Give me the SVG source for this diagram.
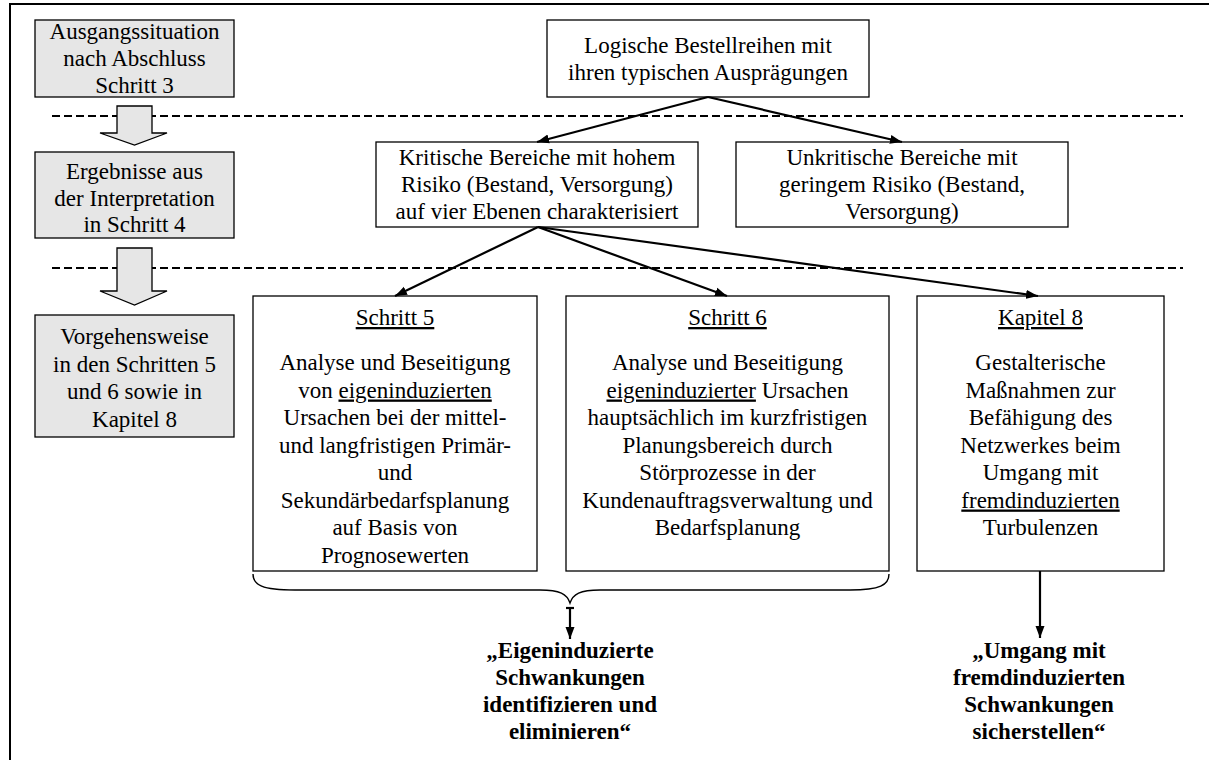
<svg xmlns="http://www.w3.org/2000/svg" width="1209" height="760" viewBox="0 0 1209 760" font-family="Liberation Serif, DejaVu Serif, serif">
  <defs>
    <marker id="head" markerUnits="userSpaceOnUse" markerWidth="13" markerHeight="10" refX="12" refY="5" orient="auto">
      <path d="M0,0.5 L12,5 L0,9.5 z" fill="#000"/>
    </marker>
    <style>
      text { font-family: 'Liberation Serif', 'DejaVu Serif', serif; font-size: 23px; fill: #000; text-anchor: middle; }
      .bold { font-weight: bold; }
      .u { text-decoration: underline; }
      .box { fill: #fff; stroke: #000; stroke-width: 1.3; }
      .gray { fill: #e6e6e6; stroke: #000; stroke-width: 1.3; }
      .dash { stroke: #000; stroke-width: 2; stroke-dasharray: 8 4; fill: none; }
      .conn { stroke: #000; stroke-width: 2.2; fill: none; }
      .brace { stroke: #000; stroke-width: 1.4; fill: none; }
    </style>
  </defs>

  <rect width="1209" height="760" fill="#fff"/>
  <!-- outer frame -->
  <rect x="10" y="4" width="1220" height="780" fill="none" stroke="#000" stroke-width="2"/>

  <!-- level separators -->
  <g id="separators">
    <line class="dash" x1="52" y1="116" x2="1183" y2="116"/>
    <line class="dash" x1="52" y1="268" x2="1183" y2="268"/>
  </g>

  <!-- left column: stage boxes and block arrows -->
  <g id="stage-1">
    <rect class="gray" x="35" y="20" width="199" height="77"/>
    <text x="134.5" y="39">Ausgangssituation</text>
    <text x="134.5" y="66">nach Abschluss</text>
    <text x="134.5" y="93">Schritt 3</text>
  </g>
  <g id="block-arrow-1">
    <polygon class="gray" points="117,106 152,106 152,133 167,133 134.5,145 100,133 117,133"/>
  </g>
  <g id="stage-2">
    <rect class="gray" x="35" y="152" width="199" height="86"/>
    <text x="134.5" y="179">Ergebnisse aus</text>
    <text x="134.5" y="206">der Interpretation</text>
    <text x="134.5" y="232">in Schritt 4</text>
  </g>
  <g id="block-arrow-2">
    <polygon class="gray" points="117,248 152,248 152,291 167,291 134.5,305 100,291 117,291"/>
  </g>
  <g id="stage-3">
    <rect class="gray" x="35" y="315" width="199" height="122"/>
    <text x="134.5" y="344">Vorgehensweise</text>
    <text x="134.5" y="372">in den Schritten 5</text>
    <text x="134.5" y="399">und 6 sowie in</text>
    <text x="134.5" y="427">Kapitel 8</text>
  </g>

  <!-- tree nodes -->
  <g id="bestellreihen">
    <rect class="box" x="547" y="20" width="322" height="77"/>
    <text x="708" y="53">Logische Bestellreihen mit</text>
    <text x="708" y="80">ihren typischen Ausprägungen</text>
  </g>
  <g id="kritisch">
    <rect class="box" x="376" y="142" width="322" height="85"/>
    <text x="537" y="165">Kritische Bereiche mit hohem</text>
    <text x="537" y="192">Risiko (Bestand, Versorgung)</text>
    <text x="537" y="219">auf vier Ebenen charakterisiert</text>
  </g>
  <g id="unkritisch">
    <rect class="box" x="736" y="142" width="332" height="85"/>
    <text x="902" y="165">Unkritische Bereiche mit</text>
    <text x="902" y="192">geringem Risiko (Bestand,</text>
    <text x="902" y="219">Versorgung)</text>
  </g>
  <g id="schritt-5">
    <rect class="box" x="253" y="296" width="284" height="275"/>
    <text x="395" y="325" class="u">Schritt 5</text>
    <text x="395" y="370">Analyse und Beseitigung</text>
    <text x="395" y="397.5">von <tspan class="u">eigeninduzierten</tspan></text>
    <text x="395" y="425">Ursachen bei der mittel-</text>
    <text x="395" y="452.5">und langfristigen Primär-</text>
    <text x="395" y="480">und</text>
    <text x="395" y="507.5">Sekundärbedarfsplanung</text>
    <text x="395" y="535">auf Basis von</text>
    <text x="395" y="562.5">Prognosewerten</text>
  </g>
  <g id="schritt-6">
    <rect class="box" x="566" y="296" width="323" height="275"/>
    <text x="727.5" y="325" class="u">Schritt 6</text>
    <text x="727.5" y="370">Analyse und Beseitigung</text>
    <text x="727.5" y="397.5"><tspan class="u">eigeninduzierter</tspan> Ursachen</text>
    <text x="727.5" y="425">hauptsächlich im kurzfristigen</text>
    <text x="727.5" y="452.5">Planungsbereich durch</text>
    <text x="727.5" y="480">Störprozesse in der</text>
    <text x="727.5" y="507.5">Kundenauftragsverwaltung und</text>
    <text x="727.5" y="535">Bedarfsplanung</text>
  </g>
  <g id="kapitel-8">
    <rect class="box" x="917" y="296" width="247" height="275"/>
    <text x="1040.5" y="325" class="u">Kapitel 8</text>
    <text x="1040.5" y="370">Gestalterische</text>
    <text x="1040.5" y="397.5">Maßnahmen zur</text>
    <text x="1040.5" y="425">Befähigung des</text>
    <text x="1040.5" y="452.5">Netzwerkes beim</text>
    <text x="1040.5" y="480">Umgang mit</text>
    <text x="1040.5" y="507.5" class="u">fremdinduzierten</text>
    <text x="1040.5" y="535">Turbulenzen</text>
  </g>

  <!-- results -->
  <g id="ergebnis-eigen">
    <text x="570" y="658" class="bold">„Eigeninduzierte</text>
    <text x="570" y="685" class="bold">Schwankungen</text>
    <text x="570" y="712" class="bold">identifizieren und</text>
    <text x="570" y="739" class="bold">eliminieren“</text>
  </g>
  <g id="ergebnis-fremd">
    <text x="1039" y="658" class="bold">„Umgang mit</text>
    <text x="1039" y="685" class="bold">fremdinduzierten</text>
    <text x="1039" y="712" class="bold">Schwankungen</text>
    <text x="1039" y="739" class="bold">sicherstellen“</text>
  </g>

  <!-- connectors -->
  <g id="connectors">
    <line class="conn" x1="708" y1="97" x2="537" y2="142" marker-end="url(#head)"/>
    <line class="conn" x1="708" y1="97" x2="902" y2="142" marker-end="url(#head)"/>
    <line class="conn" x1="538" y1="227" x2="395" y2="296" marker-end="url(#head)"/>
    <line class="conn" x1="538" y1="227" x2="727" y2="296" marker-end="url(#head)"/>
    <line class="conn" x1="538" y1="227" x2="1038" y2="296" marker-end="url(#head)"/>
    <path class="brace" d="M253,574 C253,585 262,590 295,590 L540,590 C560,590 567,594 570,603 C573,594 580,590 600,590 L850,590 C880,590 889,585 889,574"/>
    <line class="conn" x1="566" y1="608" x2="574" y2="608"/>
    <line class="conn" x1="570" y1="608" x2="570" y2="639" marker-end="url(#head)"/>
    <line class="conn" x1="1040" y1="571" x2="1040" y2="638" marker-end="url(#head)"/>
  </g>
</svg>
